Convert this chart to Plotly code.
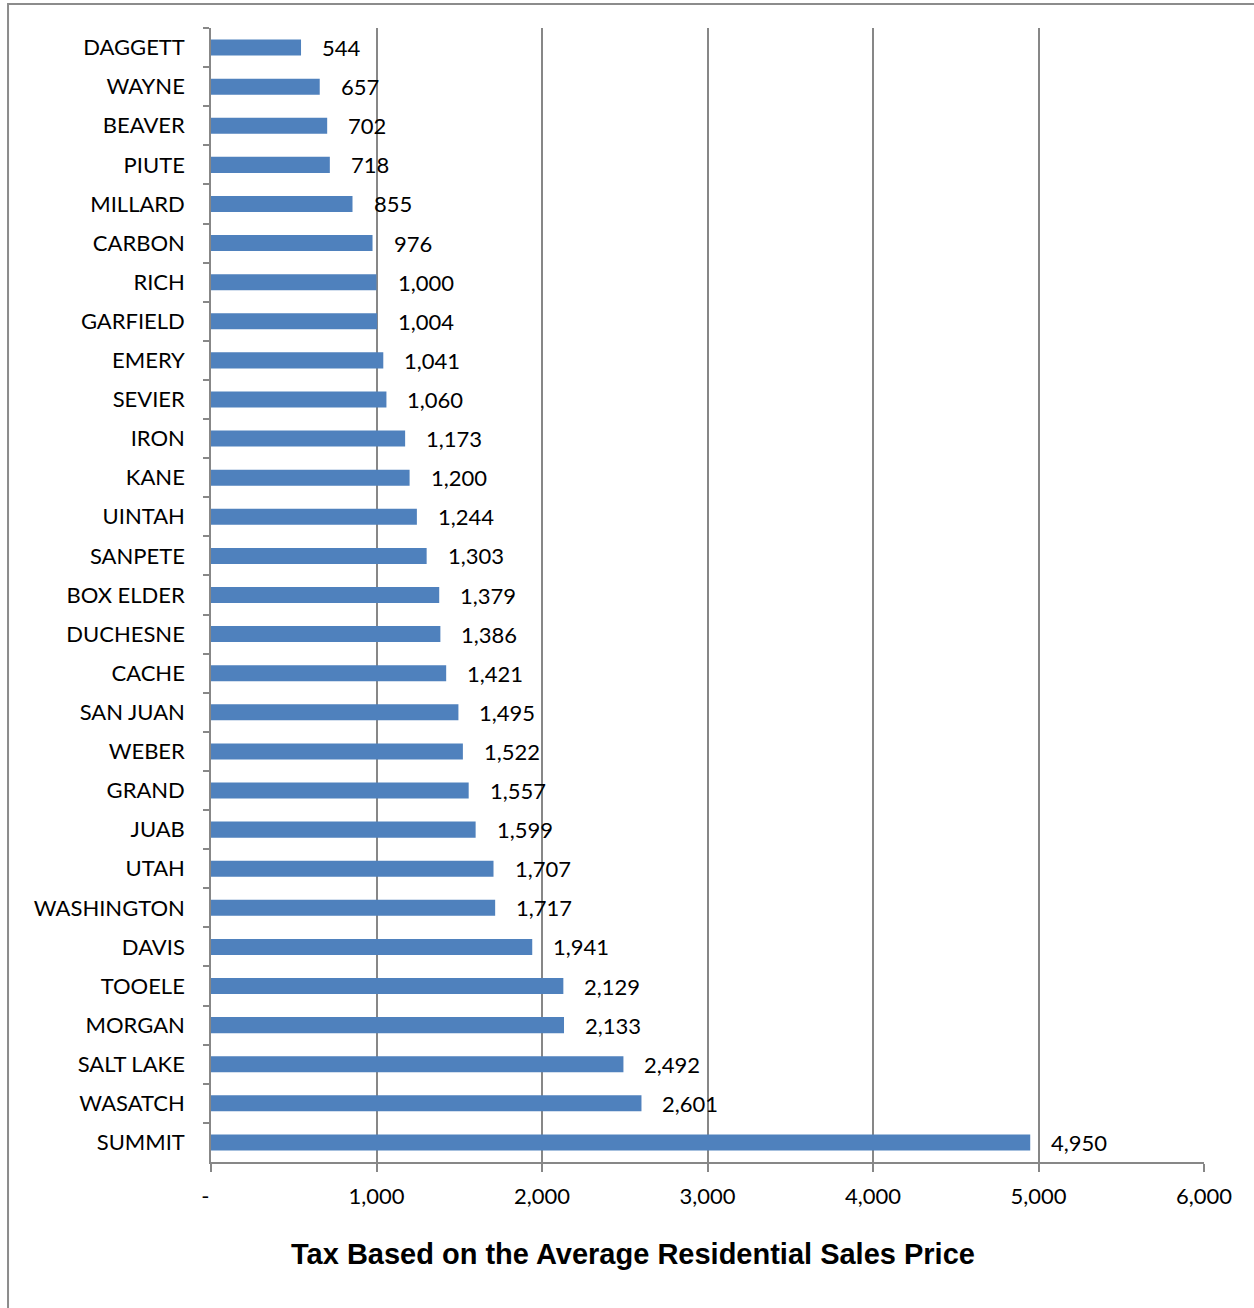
import plotly.graph_objects as go

counties = ["DAGGETT", "WAYNE", "BEAVER", "PIUTE", "MILLARD", "CARBON", "RICH", "GARFIELD",
            "EMERY", "SEVIER", "IRON", "KANE", "UINTAH", "SANPETE", "BOX ELDER", "DUCHESNE",
            "CACHE", "SAN JUAN", "WEBER", "GRAND", "JUAB", "UTAH", "WASHINGTON", "DAVIS",
            "TOOELE", "MORGAN", "SALT LAKE", "WASATCH", "SUMMIT"]
tax = [544, 657, 702, 718, 855, 976, 1000, 1004, 1041, 1060, 1173, 1200, 1244, 1303, 1379,
       1386, 1421, 1495, 1522, 1557, 1599, 1707, 1717, 1941, 2129, 2133, 2492, 2601, 4950]
x_tickvals = [0, 1000, 2000, 3000, 4000, 5000, 6000]
x_ticktext = ["-\u00a0\u00a0", "1,000", "2,000", "3,000", "4,000", "5,000", "6,000"]
title_text = "Tax Based on the Average Residential Sales Price"

label_font = dict(family="Lato, Carlito, sans-serif", size=22, color="#000000")
grey = "#878787"

fig = go.Figure()
fig.add_trace(go.Bar(
    x=tax, y=counties, orientation="h",
    marker=dict(color="#4F81BD", line=dict(width=0)),
    width=0.41, hoverinfo="x+y",
))

for c, v in zip(counties, tax):
    fig.add_annotation(x=v, y=c, xref="x", yref="y", text=f"{v:,}", showarrow=False,
                       xanchor="left", yanchor="middle", xshift=19, yshift=0,
                       font=label_font)

fig.add_annotation(x=0.425, y=-0.081, xref="paper", yref="paper", text=f"<b>{title_text}</b>",
                   showarrow=False, xanchor="center", yanchor="middle",
                   font=dict(family="Liberation Sans, Arial, sans-serif", size=29, color="#000000"))

# outer chart border (only top and left edges visible)
fig.add_shape(type="rect", xref="paper", yref="paper", x0=-0.2044, x1=1.3, y0=-0.4, y1=1.0212,
              line=dict(color="#8c8c8c", width=2), layer="below")

fig.update_layout(
    width=1254, height=1308,
    margin=dict(l=211, r=50, t=28, b=146),
    paper_bgcolor="white", plot_bgcolor="white",
    showlegend=False,
    bargap=0.59,
    xaxis=dict(range=[0, 6000], tickvals=x_tickvals, ticktext=x_ticktext,
               showgrid=True, gridcolor=grey, gridwidth=1.5,
               showline=True, linecolor=grey, linewidth=1.5,
               ticks="outside", ticklen=8, tickcolor=grey, tickwidth=1.5,
               tickfont=label_font, ticklabelstandoff=6, zeroline=False, fixedrange=True),
    yaxis=dict(categoryorder="array", categoryarray=counties, autorange="reversed",
               showgrid=False, showline=True, linecolor=grey, linewidth=1.5,
               ticks="outside", ticklen=6, tickcolor=grey, tickwidth=1.5,
               tickson="boundaries", tickfont=label_font, ticklabelstandoff=20,
               zeroline=False, fixedrange=True),
)

fig.write_html("out.html", config={"displayModeBar": False},
               post_script="document.body.style.margin='0';")
